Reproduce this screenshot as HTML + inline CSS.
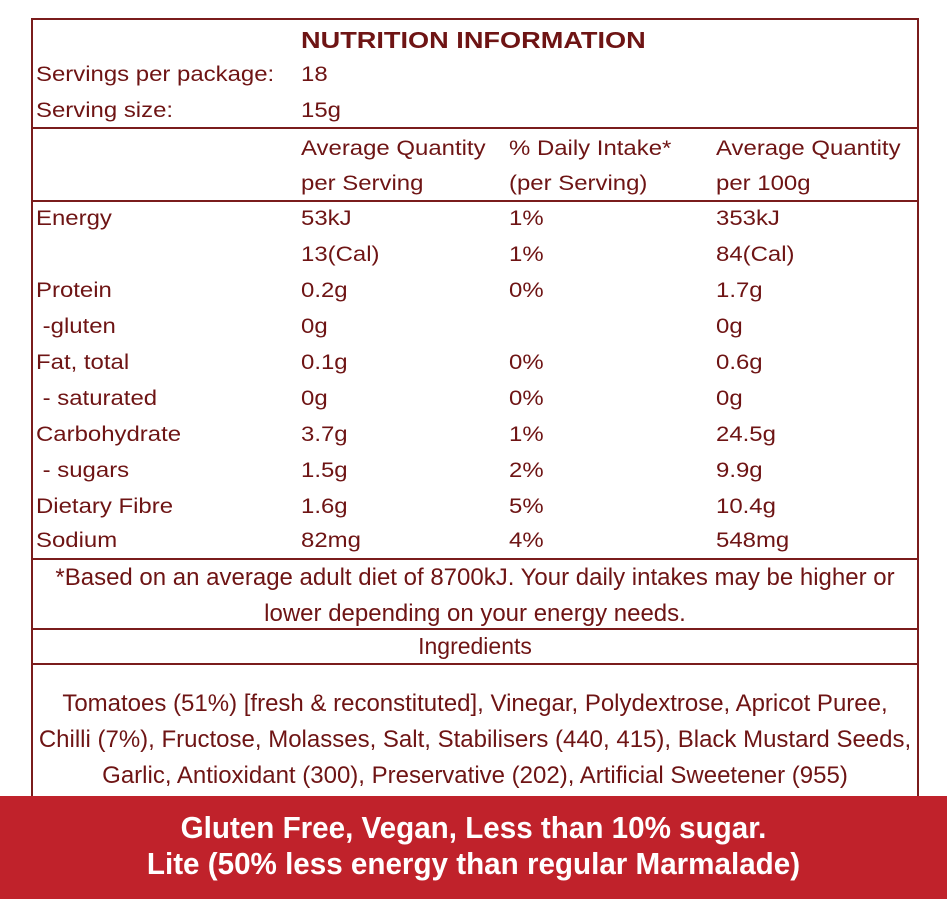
<!DOCTYPE html>
<html><head><meta charset="utf-8"><style>
body{margin:0;width:947px;height:899px;background:#fff;position:relative;overflow:hidden;font-family:"Liberation Sans",sans-serif;color:#6e1414}
.l{position:absolute;background:#7a1c1c}
.t{position:absolute;font-size:21px;line-height:24px;white-space:nowrap;transform:scaleX(1.14);transform-origin:0 0}
.n{font-size:24px;transform:none}
.c{left:32px;width:886px;text-align:center}
</style></head><body>
<div class="l" style="left:31px;top:18px;width:888px;height:2px"></div>
<div class="l" style="left:31px;top:18px;width:2px;height:790px"></div>
<div class="l" style="left:917px;top:18px;width:2px;height:790px"></div>
<div class="l" style="left:31px;top:127px;width:888px;height:2px"></div>
<div class="l" style="left:31px;top:200px;width:888px;height:2px"></div>
<div class="l" style="left:31px;top:558px;width:888px;height:2px"></div>
<div class="l" style="left:31px;top:628px;width:888px;height:2px"></div>
<div class="l" style="left:31px;top:663px;width:888px;height:2px"></div>
<div class="t" style="left:301px;top:28px;font-weight:bold;font-size:23px;transform:scaleX(1.18)">NUTRITION INFORMATION</div>
<div class="t" style="left:36px;top:63px">Servings per package:</div><div class="t" style="left:301px;top:63px">18</div>
<div class="t" style="left:36px;top:99px">Serving size:</div><div class="t" style="left:301px;top:99px">15g</div>
<div class="t" style="left:301px;top:137px">Average Quantity</div><div class="t" style="left:509px;top:137px">% Daily Intake*</div><div class="t" style="left:716px;top:137px">Average Quantity</div>
<div class="t" style="left:301px;top:172px">per Serving</div><div class="t" style="left:509px;top:172px">(per Serving)</div><div class="t" style="left:716px;top:172px">per 100g</div>
<div class="t" style="left:36px;top:207px">Energy</div><div class="t" style="left:301px;top:207px">53kJ</div><div class="t" style="left:509px;top:207px">1%</div><div class="t" style="left:716px;top:207px">353kJ</div>
<div class="t" style="left:301px;top:243px">13(Cal)</div><div class="t" style="left:509px;top:243px">1%</div><div class="t" style="left:716px;top:243px">84(Cal)</div>
<div class="t" style="left:36px;top:279px">Protein</div><div class="t" style="left:301px;top:279px">0.2g</div><div class="t" style="left:509px;top:279px">0%</div><div class="t" style="left:716px;top:279px">1.7g</div>
<div class="t" style="left:36px;top:315px">&nbsp;-gluten</div><div class="t" style="left:301px;top:315px">0g</div><div class="t" style="left:716px;top:315px">0g</div>
<div class="t" style="left:36px;top:351px">Fat, total</div><div class="t" style="left:301px;top:351px">0.1g</div><div class="t" style="left:509px;top:351px">0%</div><div class="t" style="left:716px;top:351px">0.6g</div>
<div class="t" style="left:36px;top:387px">&nbsp;- saturated</div><div class="t" style="left:301px;top:387px">0g</div><div class="t" style="left:509px;top:387px">0%</div><div class="t" style="left:716px;top:387px">0g</div>
<div class="t" style="left:36px;top:423px">Carbohydrate</div><div class="t" style="left:301px;top:423px">3.7g</div><div class="t" style="left:509px;top:423px">1%</div><div class="t" style="left:716px;top:423px">24.5g</div>
<div class="t" style="left:36px;top:459px">&nbsp;- sugars</div><div class="t" style="left:301px;top:459px">1.5g</div><div class="t" style="left:509px;top:459px">2%</div><div class="t" style="left:716px;top:459px">9.9g</div>
<div class="t" style="left:36px;top:495px">Dietary Fibre</div><div class="t" style="left:301px;top:495px">1.6g</div><div class="t" style="left:509px;top:495px">5%</div><div class="t" style="left:716px;top:495px">10.4g</div>
<div class="t" style="left:36px;top:529px">Sodium</div><div class="t" style="left:301px;top:529px">82mg</div><div class="t" style="left:509px;top:529px">4%</div><div class="t" style="left:716px;top:529px">548mg</div>
<div class="t n c" style="top:566px">*Based on an average adult diet of 8700kJ. Your daily intakes may be higher or</div>
<div class="t n c" style="top:602px">lower depending on your energy needs.</div>
<div class="t n c" style="top:634px;font-size:23px">Ingredients</div>
<div class="t n c" style="top:692px">Tomatoes (51%) [fresh &amp; reconstituted], Vinegar, Polydextrose, Apricot Puree,</div>
<div class="t n c" style="top:728px">Chilli (7%), Fructose, Molasses, Salt, Stabilisers (440, 415), Black Mustard Seeds,</div>
<div class="t n c" style="top:764px">Garlic, Antioxidant (300), Preservative (202), Artificial Sweetener (955)</div>
<div style="position:absolute;left:0;top:796px;width:947px;height:103px;background:#c0222b"></div>
<div class="t" style="left:0;width:947px;text-align:center;top:810px;color:#fff;font-weight:bold;font-size:31px;line-height:36px;transform:scaleX(0.955);transform-origin:473px 0">Gluten Free, Vegan, Less than 10% sugar.<br>Lite (50% less energy than regular Marmalade)</div>
</body></html>
